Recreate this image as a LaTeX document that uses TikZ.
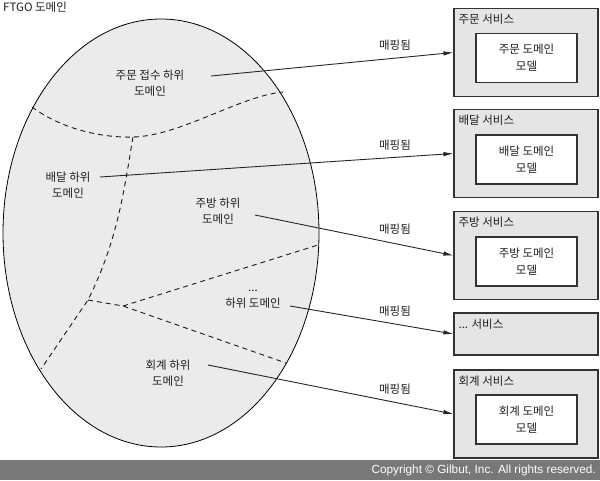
\documentclass[tikz,border=0pt]{standalone}
\usepackage{fontspec}
\setmainfont{Noto Sans CJK KR}
\newfontfamily\copyfont{Liberation Sans}
\usetikzlibrary{arrows.meta}
\begin{document}
\begin{tikzpicture}[x=1pt,y=-1pt,
  txt/.style={font=\fontsize{11.5}{16}\selectfont, text=black!88, inner sep=1pt, align=center},
  svc/.style={draw=black!80, line width=1.2pt, fill=black!10, minimum width=144pt, minimum height=88pt, inner sep=0pt},
  model/.style={draw=black!80, line width=1.2pt, fill=white, minimum width=101pt, minimum height=49pt, inner sep=0pt, align=center, font=\fontsize{11.5}{17}\selectfont, text=black!88},
  map/.style={line width=0.9pt, draw=black!85, -{Latex[length=10pt,width=4.5pt]}},
  part/.style={dash pattern=on 5pt off 4pt, line width=0.9pt, draw=black!90}
]
\useasboundingbox (0,0) rectangle (600,480);

% domain ellipse
\node[txt, anchor=north west] (ftgo) at (2,1) {FTGO 도메인};
\draw[fill=black!8, line width=0.8pt] (161,233) ellipse [x radius=158, y radius=214];

% subdomain borders
\draw[part] (32,107) .. controls (60,128) and (100,138) .. (133,137)
            .. controls (180,136) and (240,96) .. (283,92);
\draw[part] (133,137) .. controls (124,190) and (118,240) .. (88,300) -- (41,369);
\draw[part] (88,300) -- (123,306) -- (286,363);
\draw[part] (123,306) -- (318,245);

% subdomain labels
\node[txt] (d1) at (150,83) {주문 접수 하위\\도메인};
\node[txt] (d2) at (68,185) {배달 하위\\도메인};
\node[txt] (d3) at (218,211) {주방 하위\\도메인};
\node[txt] (d4) at (253,299) {...\\하위 도메인};
\node[txt] (d5) at (168,373) {회계 하위\\도메인};

% services
\node[svc] (s1) at (526,52.5) {};
\node[svc] (s2) at (526,153.5) {};
\node[svc] (s3) at (526,255.5) {};
\node[svc, minimum height=42pt] (s4) at (526,334) {};
\node[svc] (s5) at (526,414) {};

\node[txt, anchor=north west] (t1) at ([shift={(4,5)}]s1.north west) {주문 서비스};
\node[txt, anchor=north west] (t2) at ([shift={(4,5)}]s2.north west) {배달 서비스};
\node[txt, anchor=north west] (t3) at ([shift={(4,5)}]s3.north west) {주방 서비스};
\node[txt, anchor=north west] (t4) at ([shift={(4,5)}]s4.north west) {... 서비스};
\node[txt, anchor=north west] (t5) at ([shift={(4,5)}]s5.north west) {회계 서비스};

\node[model] (m1) at (526.5,58) {주문 도메인\\모델};
\node[model] (m2) at (526.5,159.5) {배달 도메인\\모델};
\node[model] (m3) at (526.5,261.5) {주방 도메인\\모델};
\node[model] (m5) at (526.5,419.5) {회계 도메인\\모델};

% mappings
\coordinate (a1) at (211,76);
\coordinate (a2) at (100,177);
\coordinate (a3) at (255,215);
\coordinate (a4) at (290,306);
\coordinate (a5) at (208,365);
\draw[map] (a1) -- (s1.west);
\draw[map] (a2) -- (s2.west);
\draw[map] (a3) -- (s3.west);
\draw[map] (a4) -- (s4.west);
\draw[map] (a5) -- (s5.west);

\node[txt] (k1) at (395,45) {매핑됨};
\node[txt] (k2) at (395,145) {매핑됨};
\node[txt] (k3) at (395,229) {매핑됨};
\node[txt] (k4) at (395,311) {매핑됨};
\node[txt] (k5) at (395,389) {매핑됨};

% copyright bar
\fill[black!53] (0,460) rectangle (600,480);
\node[anchor=east, text=white, inner sep=0pt, font=\copyfont\fontsize{11.8}{13}\selectfont] (copy) at (596,470.5) {Copyright © Gilbut, Inc. All rights reserved.};
\end{tikzpicture}
\end{document}
